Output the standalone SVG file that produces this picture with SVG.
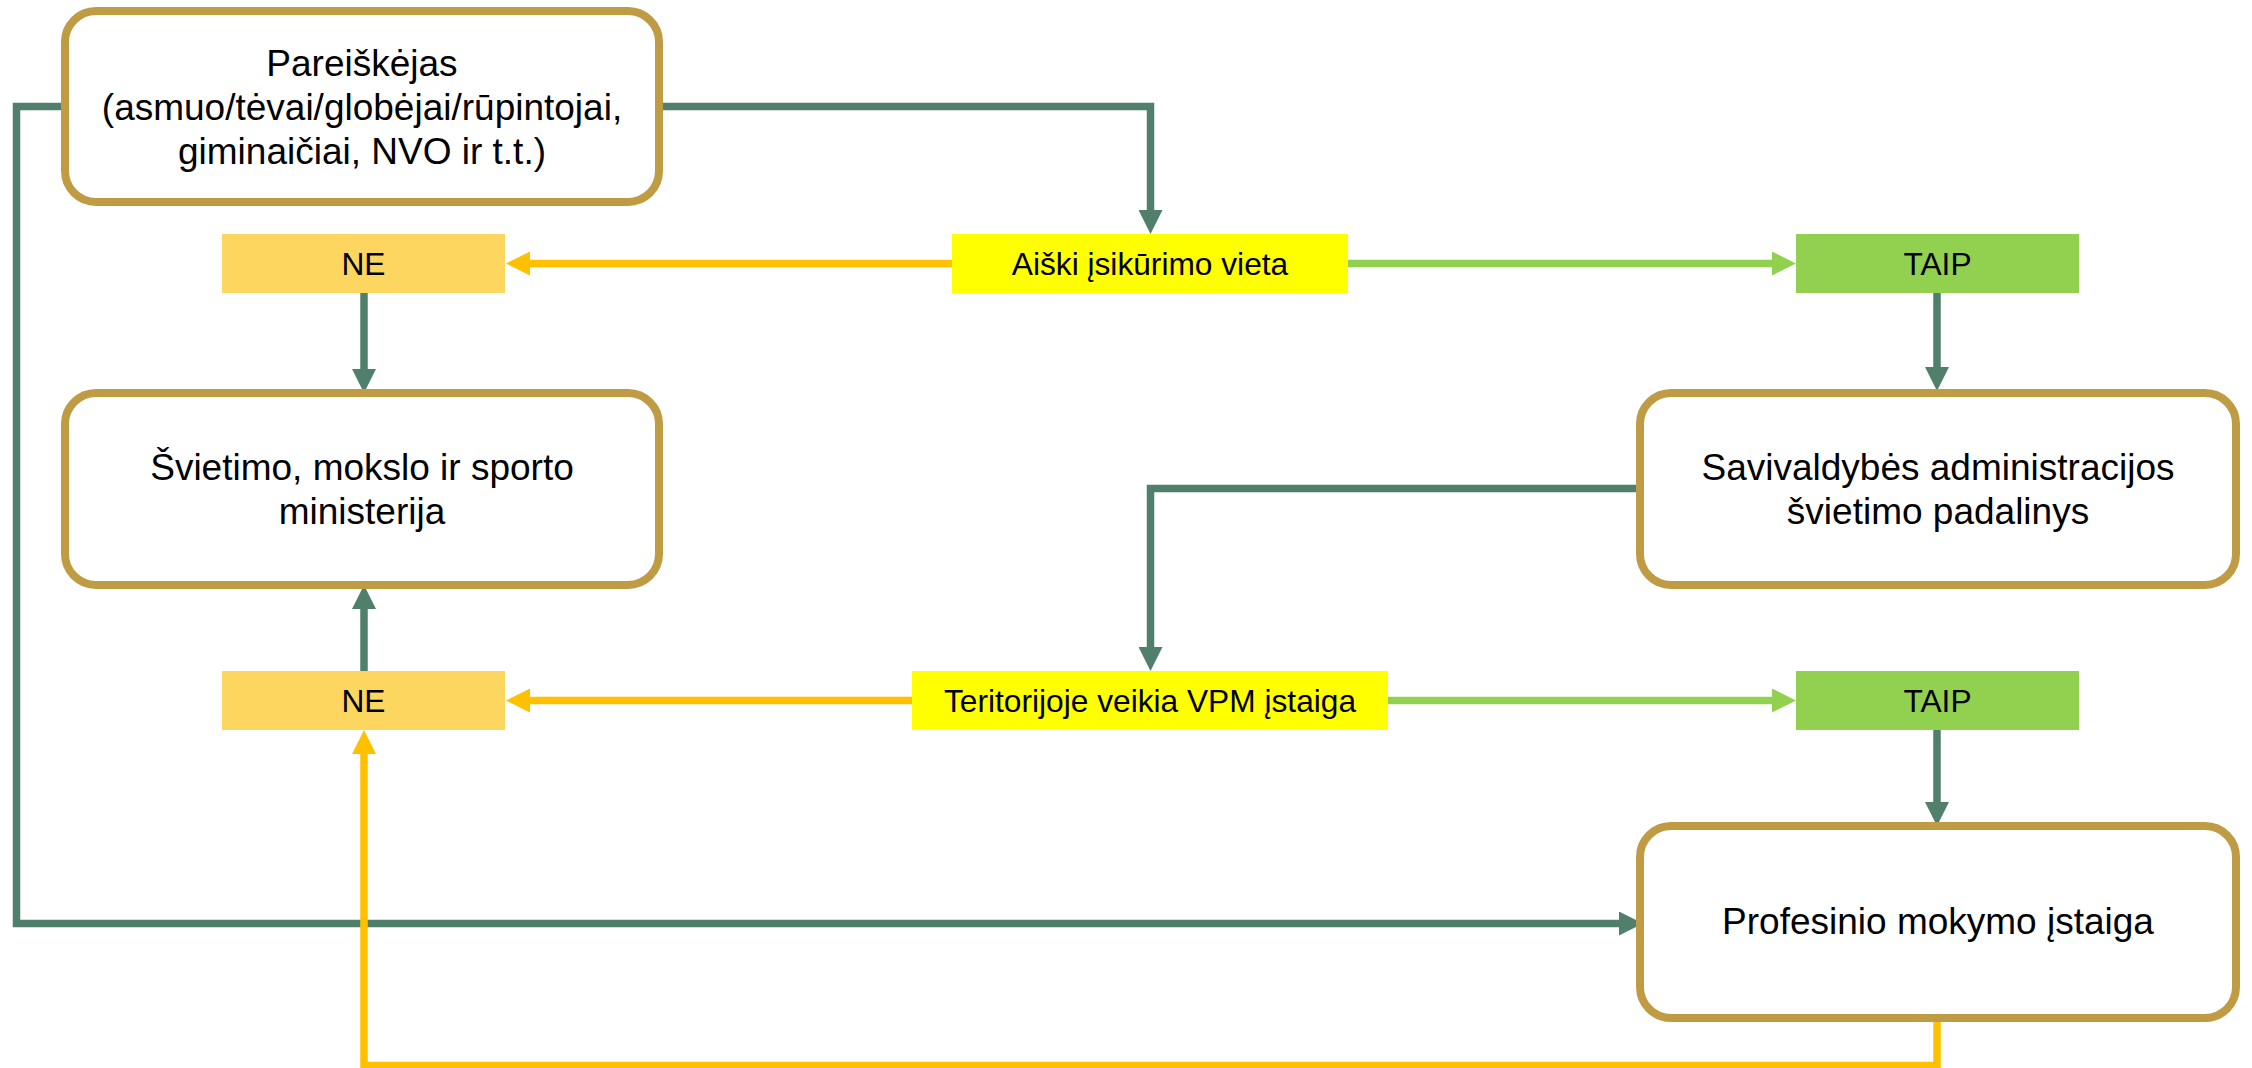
<svg xmlns="http://www.w3.org/2000/svg" width="2252" height="1068" viewBox="0 0 2252 1068">
<style>
.box{fill:#FFFFFF;stroke:#BF9B44;stroke-width:8}
.t{font-family:"Liberation Sans",Arial,sans-serif;fill:#000000;text-anchor:middle}
.big{font-size:37px}
.small{font-size:31.7px}
.ne{fill:#FDD660}
.q{fill:#FFFF00}
.yes{fill:#92D050}
.cg{fill:none;stroke:#50806B;stroke-width:7.5}
.co{fill:none;stroke:#FFC000;stroke-width:7.5}
.cl{fill:none;stroke:#92D050;stroke-width:7.5}
</style>
<defs>
<marker id="ag" markerUnits="userSpaceOnUse" markerWidth="24" markerHeight="24" refX="12" refY="12" orient="auto"><path d="M0,0 L24,12 L0,24 z" fill="#50806B"/></marker>
<marker id="ao" markerUnits="userSpaceOnUse" markerWidth="24" markerHeight="24" refX="12" refY="12" orient="auto"><path d="M0,0 L24,12 L0,24 z" fill="#FFC000"/></marker>
<marker id="al" markerUnits="userSpaceOnUse" markerWidth="24" markerHeight="24" refX="12" refY="12" orient="auto"><path d="M0,0 L24,12 L0,24 z" fill="#92D050"/></marker>
</defs>
<rect width="2252" height="1068" fill="#FFFFFF"/>
<g id="connectors">
<path class="cg" d="M659,106.5 H1150.5 V222" marker-end="url(#ag)"/>
<path class="cg" d="M65,106.5 H16.5 V923.5 H1631" marker-end="url(#ag)"/>
<path class="co" d="M952,263.5 H518" marker-end="url(#ao)"/>
<path class="cl" d="M1348,263.5 H1784" marker-end="url(#al)"/>
<path class="cg" d="M364,293 V381" marker-end="url(#ag)"/>
<path class="cg" d="M1937,293 V379" marker-end="url(#ag)"/>
<path class="cg" d="M1640,488.5 H1150.5 V659" marker-end="url(#ag)"/>
<path class="co" d="M912,700.5 H518" marker-end="url(#ao)"/>
<path class="cl" d="M1388,700.5 H1784" marker-end="url(#al)"/>
<path class="cg" d="M364,671 V597" marker-end="url(#ag)"/>
<path class="cg" d="M1937,730 V814" marker-end="url(#ag)"/>
<path class="co" d="M1937,1018 V1065.5 H364 V742" marker-end="url(#ao)"/>
</g>
<g id="n-pareiskejas">
<rect class="box" x="65" y="11" width="594" height="191" rx="31"/>
<text class="t big" x="362" y="76">Pareiškėjas</text>
<text class="t big" x="362" y="120">(asmuo/tėvai/globėjai/rūpintojai,</text>
<text class="t big" x="362" y="164">giminaičiai, NVO ir t.t.)</text>
</g>
<g id="n-ne1">
<rect class="ne" x="222" y="234" width="283" height="59"/>
<text class="t small" x="363.5" y="275">NE</text>
</g>
<g id="n-aiski">
<rect class="q" x="952" y="234" width="396" height="59"/>
<text class="t small" x="1150" y="275">Aiški įsikūrimo vieta</text>
</g>
<g id="n-taip1">
<rect class="yes" x="1796" y="234" width="283" height="59"/>
<text class="t small" x="1937.5" y="275">TAIP</text>
</g>
<g id="n-ministerija">
<rect class="box" x="65" y="393" width="594" height="192" rx="31"/>
<text class="t big" x="362" y="480">Švietimo, mokslo ir sporto</text>
<text class="t big" x="362" y="524">ministerija</text>
</g>
<g id="n-savivaldybe">
<rect class="box" x="1640" y="393" width="596" height="192" rx="31"/>
<text class="t big" x="1938" y="480">Savivaldybės administracijos</text>
<text class="t big" x="1938" y="524">švietimo padalinys</text>
</g>
<g id="n-ne2">
<rect class="ne" x="222" y="671" width="283" height="59"/>
<text class="t small" x="363.5" y="712">NE</text>
</g>
<g id="n-teritorijoje">
<rect class="q" x="912" y="671" width="476" height="59"/>
<text class="t small" x="1150" y="712">Teritorijoje veikia VPM įstaiga</text>
</g>
<g id="n-taip2">
<rect class="yes" x="1796" y="671" width="283" height="59"/>
<text class="t small" x="1937.5" y="712">TAIP</text>
</g>
<g id="n-profesinio">
<rect class="box" x="1640" y="826" width="596" height="192" rx="31"/>
<text class="t big" x="1938" y="934">Profesinio mokymo įstaiga</text>
</g>
</svg>
